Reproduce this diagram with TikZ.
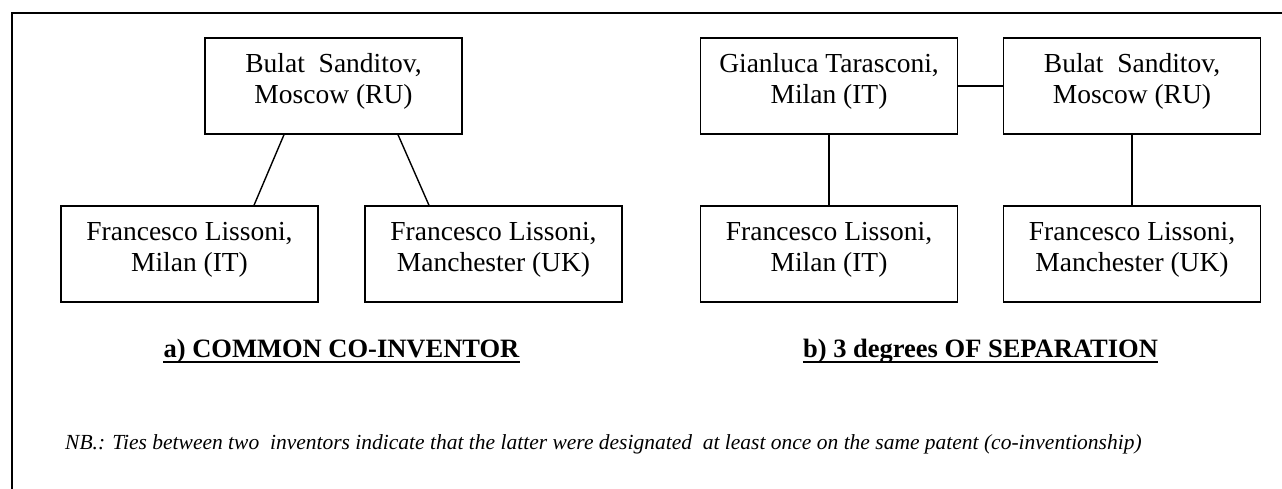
\documentclass[tikz,border=0pt]{standalone}
\usepackage{fontspec}
\setmainfont{Liberation Serif}
\begin{document}
\begin{tikzpicture}[x=1pt,y=-1pt,
  inventor/.style={draw,line width=1.4pt,minimum width=257pt,minimum height=96pt,inner sep=0pt},
  who/.style={align=center,inner sep=0pt,font=\fontsize{27.5}{31}\selectfont},
  tie/.style={line width=1.4pt},
  caption/.style={inner sep=0pt,anchor=base,font=\fontsize{26.5}{30}\selectfont\bfseries},
  uline/.style={line width=1.3pt},
  note/.style={inner sep=0pt,anchor=base west,font=\fontsize{21.5}{25}\selectfont\itshape}]
\useasboundingbox (0,0) rectangle (1282,489);

% open frame: top and left edges only
\coordinate (fbl) at (12,489);
\coordinate (ftl) at (12,13);
\coordinate (ftr) at (1282,13);
\draw[line width=1.4pt] (fbl) -- (ftl) -- (ftr);

% a) common co-inventor
\node[inventor] (a0) at (333.5,86) {};
\node[inventor] (a1) at (189.5,254) {};
\node[inventor] (a2) at (493.5,254) {};
\node[who,yshift=5pt] (ta0) at (a0.center) {Bulat\ \ Sanditov,\\Moscow (RU)};
\node[who,yshift=4pt] (ta1) at (a1.center) {Francesco Lissoni,\\Milan (IT)};
\node[who,yshift=4pt] (ta2) at (a2.center) {Francesco Lissoni,\\Manchester (UK)};
\draw[tie] ([xshift=-49.5pt]a0.south) -- ([xshift=64.5pt]a1.north);
\draw[tie] ([xshift=64.5pt]a0.south) -- ([xshift=-64.5pt]a2.north);

% b) three degrees of separation
\node[inventor] (b0) at (829,86) {};
\node[inventor] (b1) at (1132,86) {};
\node[inventor] (b2) at (829,254) {};
\node[inventor] (b3) at (1132,254) {};
\node[who,yshift=5pt] (tb0) at (b0.center) {Gianluca Tarasconi,\\Milan (IT)};
\node[who,yshift=5pt] (tb1) at (b1.center) {Bulat\ \ Sanditov,\\Moscow (RU)};
\node[who,yshift=4pt] (tb2) at (b2.center) {Francesco Lissoni,\\Milan (IT)};
\node[who,yshift=4pt] (tb3) at (b3.center) {Francesco Lissoni,\\Manchester (UK)};
\draw[tie] (b0.east) -- (b1.west);
\draw[tie] (b0.south) -- (b2.north);
\draw[tie] (b1.south) -- (b3.north);

% captions, underlined
\node[caption] (capa) at (341.5,357) {a) COMMON CO-INVENTOR};
\node[caption] (capb) at (980.5,357) {b) 3 degrees OF SEPARATION};
\draw[uline] ([yshift=-5pt]capa.base west) -- ([yshift=-5pt]capa.base east);
\draw[uline] ([yshift=-5pt]capb.base west) -- ([yshift=-5pt]capb.base east);

% footnote
\node[note] (nb) at (65,449) {NB.: Ties between two\ \ inventors indicate that the latter were designated\ \ at least once on the same patent (co-inventionship)};
\end{tikzpicture}
\end{document}
